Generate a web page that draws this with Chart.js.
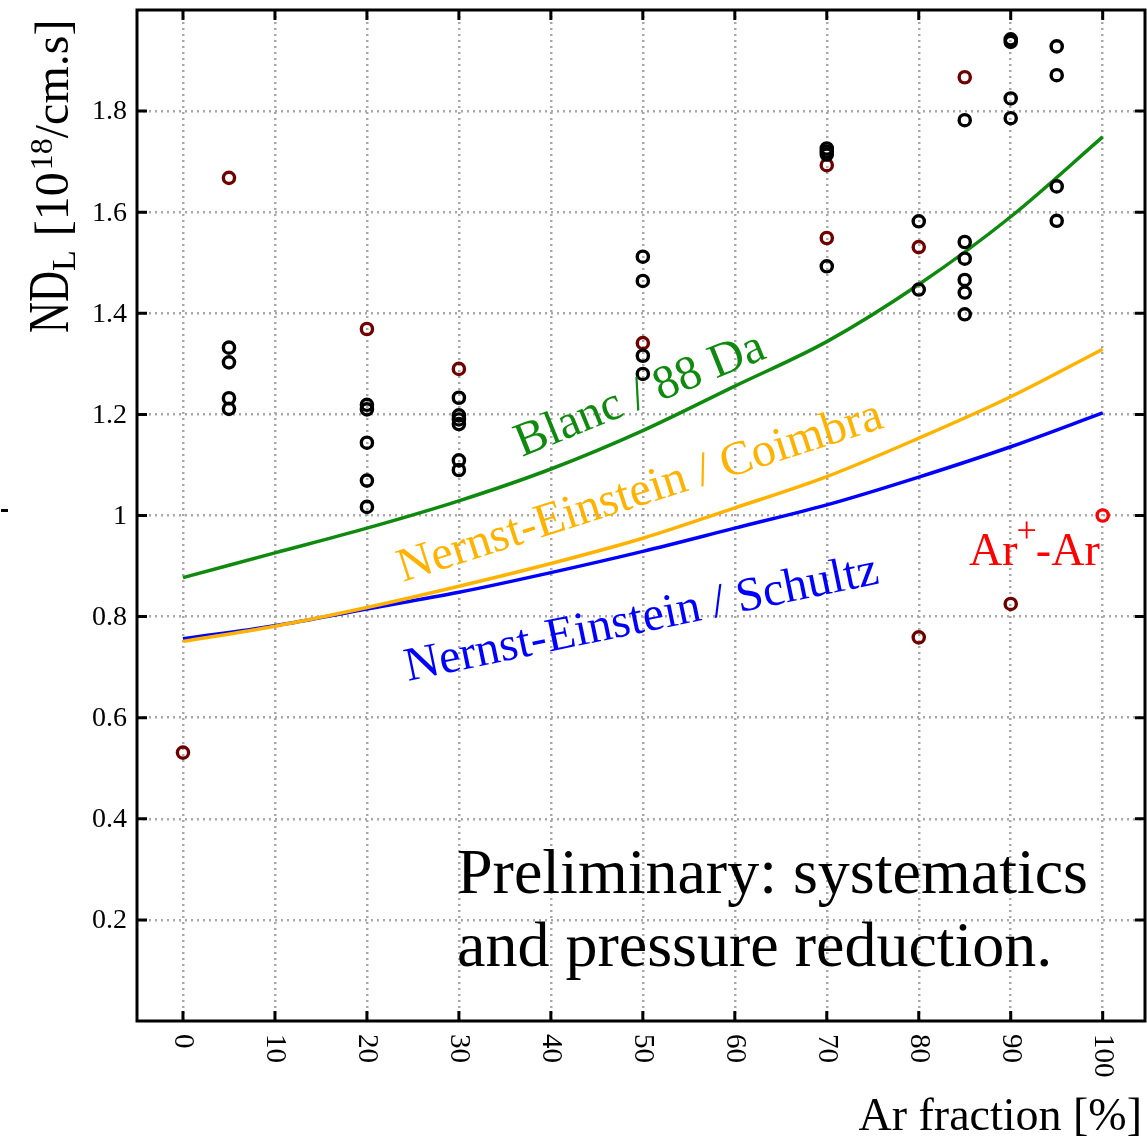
<!DOCTYPE html>
<html>
<head>
<meta charset="utf-8">
<script src="https://cdn.jsdelivr.net/npm/chart.js@4.4.1/dist/chart.umd.min.js"></script>
<style>
  html, body { margin: 0; padding: 0; background: #fff; }
  #wrap { width: 1147px; height: 1137px; }
</style>
</head>
<body>
<div id="wrap"><canvas id="chart" width="1147" height="1137"></canvas></div>
<script>
// axis ticks
const xTicks = [0, 10, 20, 30, 40, 50, 60, 70, 80, 90, 100];
const yTicks = [0.2, 0.4, 0.6, 0.8, 1.0, 1.2, 1.4, 1.6, 1.8];
const yTickLabels = ['0.2', '0.4', '0.6', '0.8', '1', '1.2', '1.4', '1.6', '1.8'];

// model curves, read every 10 %
const curveX = [0, 10, 20, 30, 40, 50, 60, 70, 80, 90, 100];
const blancY = [0.877, 0.926, 0.975, 1.029, 1.092, 1.168, 1.256, 1.344, 1.457, 1.591, 1.749];
const coimbraY = [0.751, 0.781, 0.818, 0.860, 0.905, 0.955, 1.015, 1.077, 1.153, 1.235, 1.329];
const schultzY = [0.756, 0.782, 0.815, 0.848, 0.887, 0.929, 0.975, 1.021, 1.076, 1.136, 1.203];

// measurements (black)
const blackX = [5, 5, 5, 5, 20, 20, 20, 20, 20, 30, 30, 30, 30, 30, 30, 50, 50, 50, 50,
  70, 70, 70, 70, 80, 80, 85, 85, 85, 85, 85, 85, 90, 90, 90, 90, 95, 95, 95, 95];
const blackY = [1.332, 1.303, 1.232, 1.211, 1.219, 1.210, 1.144, 1.069, 1.017,
  1.233, 1.198, 1.190, 1.181, 1.109, 1.090, 1.512, 1.464, 1.316, 1.280,
  1.726, 1.720, 1.714, 1.493, 1.582, 1.447, 1.782, 1.541, 1.508, 1.466, 1.441, 1.398,
  1.942, 1.937, 1.825, 1.786, 1.928, 1.871, 1.651, 1.583];

// measurements (dark red)
const darkX = [0, 5, 20, 30, 50, 70, 70, 80, 80, 85, 90];
const darkY = [0.531, 1.668, 1.369, 1.290, 1.341, 1.693, 1.549, 1.531, 0.759, 1.867, 0.825];

// Ar+-Ar reference
const refX = [100];
const refY = [1.0];

const SERIF = '"Liberation Serif", "DejaVu Serif", serif';
const GREEN = '#0f8a0f';
const ORANGE = '#ffb300';
const BLUE = '#0000ff';
const MAROON = '#700000';

function pts(xs, ys) {
  return xs.map((x, i) => ({ x: x, y: ys[i] }));
}

function lineSet(ys, color) {
  return {
    type: 'line',
    data: pts(curveX, ys),
    borderColor: color,
    borderWidth: 3.5,
    pointRadius: 0,
    cubicInterpolationMode: 'monotone',
    fill: false,
    order: 2
  };
}

function pointSet(xs, ys, color) {
  return {
    data: pts(xs, ys),
    borderColor: color,
    backgroundColor: 'rgba(0,0,0,0)',
    borderWidth: 3.4,
    pointRadius: 5.6,
    pointStyle: 'circle',
    showLine: false,
    order: 1
  };
}

function rotText(ctx, txt, x, y, deg, size, color) {
  ctx.save();
  ctx.translate(x, y);
  ctx.rotate(deg * Math.PI / 180);
  ctx.font = size + 'px ' + SERIF;
  ctx.fillStyle = color;
  ctx.textAlign = 'left';
  ctx.textBaseline = 'alphabetic';
  ctx.fillText(txt, 0, 0);
  ctx.restore();
}

const decor = {
  id: 'decor',
  afterDraw(chart) {
    const ctx = chart.ctx;
    const a = chart.chartArea;
    const xs = chart.scales.x;
    const ys = chart.scales.y;

    // frame with inward ticks on all sides
    ctx.save();
    ctx.strokeStyle = '#000';
    ctx.lineWidth = 3;
    ctx.strokeRect(a.left, a.top, a.right - a.left, a.bottom - a.top);
    ctx.beginPath();
    xTicks.forEach(v => {
      const px = xs.getPixelForValue(v);
      ctx.moveTo(px, a.bottom); ctx.lineTo(px, a.bottom - 10);
      ctx.moveTo(px, a.top); ctx.lineTo(px, a.top + 10);
    });
    yTicks.forEach(v => {
      const py = ys.getPixelForValue(v);
      ctx.moveTo(a.left, py); ctx.lineTo(a.left + 10, py);
      ctx.moveTo(a.right, py); ctx.lineTo(a.right - 10, py);
    });
    ctx.stroke();

    // stray mark at far left
    ctx.fillStyle = '#000';
    ctx.fillRect(1, 509, 7, 3);

    // y tick labels
    ctx.font = '28px ' + SERIF;
    ctx.textAlign = 'right';
    ctx.textBaseline = 'middle';
    yTicks.forEach((v, i) => {
      ctx.fillText(yTickLabels[i], 127, ys.getPixelForValue(v) + 1);
    });

    // x tick labels, turned clockwise
    xTicks.forEach(v => {
      ctx.save();
      ctx.translate(xs.getPixelForValue(v), a.bottom + 13);
      ctx.rotate(Math.PI / 2);
      ctx.font = '29px ' + SERIF;
      ctx.textAlign = 'left';
      ctx.textBaseline = 'middle';
      ctx.fillText(String(v), 0, 0);
      ctx.restore();
    });

    // x title
    ctx.font = '46px ' + SERIF;
    ctx.textAlign = 'right';
    ctx.textBaseline = 'alphabetic';
    ctx.fillText('Ar fraction [%]', 1142, 1130);

    // y title: ND_L [10^18/cm.s]
    ctx.save();
    ctx.translate(68, 333);
    ctx.rotate(-Math.PI / 2);
    ctx.textAlign = 'left';
    ctx.textBaseline = 'alphabetic';
    let pos = 0;
    ctx.save();
    ctx.scale(0.74, 1);
    ctx.font = '58px ' + SERIF;
    ctx.fillText('ND', 0, 0);
    pos += ctx.measureText('ND').width * 0.74;
    ctx.restore();
    ctx.font = '34px ' + SERIF;
    ctx.fillText('L', pos, 7);
    pos += ctx.measureText('L').width + 14;
    ctx.font = '48px ' + SERIF;
    ctx.fillText('[10', pos, 0);
    pos += ctx.measureText('[10').width + 2;
    ctx.font = '32px ' + SERIF;
    ctx.fillText('18', pos, -16);
    pos += ctx.measureText('18').width;
    ctx.font = '48px ' + SERIF;
    ctx.fillText('/cm.s]', pos, 0);
    ctx.restore();

    // curve annotations
    rotText(ctx, 'Blanc / 88 Da', 522, 457, -22, 48, GREEN);
    rotText(ctx, 'Nernst-Einstein / Coimbra', 403, 582, -17.8, 48, ORANGE);
    rotText(ctx, 'Nernst-Einstein / Schultz', 408, 681, -11.7, 48, BLUE);

    // Ar+-Ar label
    ctx.fillStyle = '#ff0000';
    ctx.textAlign = 'left';
    ctx.font = '46px ' + SERIF;
    let ax = 969;
    ctx.fillText('Ar', ax, 565);
    ax += ctx.measureText('Ar').width;
    ctx.font = '36px ' + SERIF;
    ctx.fillText('+', ax - 1, 542);
    ax += ctx.measureText('+').width - 2;
    ctx.font = '46px ' + SERIF;
    ctx.fillText('-Ar', ax, 565);

    // note
    ctx.fillStyle = '#000';
    ctx.font = '64px ' + SERIF;
    ctx.fillText('Preliminary: systematics', 457, 893);
    ctx.fillText('and pressure reduction.', 457, 966);
    ctx.restore();
  }
};

new Chart(document.getElementById('chart'), {
  type: 'scatter',
  data: {
    datasets: [
      pointSet(blackX, blackY, '#000000'),
      pointSet(darkX, darkY, MAROON),
      pointSet(refX, refY, '#ff0000'),
      lineSet(blancY, GREEN),
      lineSet(coimbraY, ORANGE),
      lineSet(schultzY, BLUE)
    ]
  },
  options: {
    responsive: false,
    devicePixelRatio: 1,
    animation: false,
    layout: { autoPadding: false, padding: { left: 137, top: 10, right: 2, bottom: 116 } },
    plugins: { legend: { display: false }, tooltip: { enabled: false } },
    scales: {
      x: {
        type: 'linear',
        min: -5,
        max: 104.6,
        afterBuildTicks: s => { s.ticks = xTicks.map(v => ({ value: v })); },
        ticks: { display: false },
        grid: { color: '#a8a8a8', lineWidth: 2.5, drawTicks: false },
        border: { display: false, dash: [2, 4] }
      },
      y: {
        type: 'linear',
        min: 0,
        max: 2,
        afterBuildTicks: s => { s.ticks = yTicks.map(v => ({ value: v })); },
        ticks: { display: false },
        grid: { color: '#a8a8a8', lineWidth: 2.5, drawTicks: false },
        border: { display: false, dash: [2, 4] }
      }
    }
  },
  plugins: [decor]
});
</script>
</body>
</html>
